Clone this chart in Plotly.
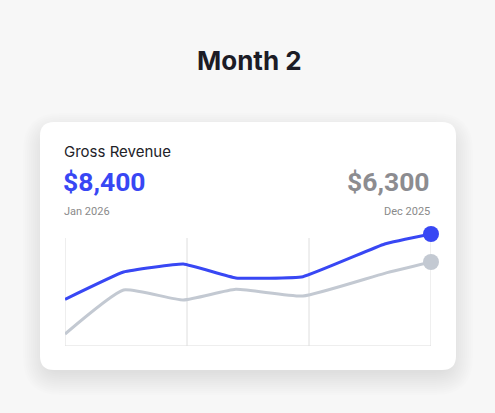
import plotly.graph_objects as go

# ---- data ----
x_pos = [0, 0.48, 0.97, 1.4, 1.95, 2.62, 3.0]
current = [3500, 5550, 6150, 5100, 5200, 7650, 8400]   # Jan 2026
previous = [900, 4200, 3450, 4250, 3750, 5450, 6300]   # Dec 2025
grid_x = [0, 1, 2, 3]
title_text = "Month 2"
metric_label = "Gross Revenue"
current_value = "$8,400"
previous_value = "$6,300"
current_period = "Jan 2026"
previous_period = "Dec 2025"

W, H = 495, 413
BLUE = "#3847F4"
GRAY = "#C3C9D2"
BG = "#F7F7F7"

def px(x):
    return x / W

def py(y):
    return 1 - y / H

fig = go.Figure()

fig.add_trace(go.Scatter(x=x_pos, y=previous, mode="lines",
                         line=dict(color=GRAY, width=3, shape="spline", smoothing=0.45),
                         hoverinfo="skip", showlegend=False, cliponaxis=False))
fig.add_trace(go.Scatter(x=x_pos, y=current, mode="lines",
                         line=dict(color=BLUE, width=3, shape="spline", smoothing=0.3),
                         hoverinfo="skip", showlegend=False, cliponaxis=False))
fig.add_trace(go.Scatter(x=[x_pos[-1]], y=[previous[-1]], mode="markers",
                         marker=dict(color=GRAY, size=16), showlegend=False,
                         hoverinfo="skip", cliponaxis=False))
fig.add_trace(go.Scatter(x=[x_pos[-1]], y=[current[-1]], mode="markers",
                         marker=dict(color=BLUE, size=16), showlegend=False,
                         hoverinfo="skip", cliponaxis=False))

shapes = []

def rrect(x0, y0, x1, y1, r):
    rx, ry = r / W, r / H
    X0, X1 = px(x0), px(x1)
    Yt, Yb = py(y0), py(y1)
    return (f"M {X0+rx},{Yt} L {X1-rx},{Yt} Q {X1},{Yt} {X1},{Yt-ry} "
            f"L {X1},{Yb+ry} Q {X1},{Yb} {X1-rx},{Yb} L {X0+rx},{Yb} "
            f"Q {X0},{Yb} {X0},{Yb+ry} L {X0},{Yt-ry} Q {X0},{Yt} {X0+rx},{Yt} Z")

for i in range(12):
    g = 1 + i * 2.0
    shapes.append(dict(type="path", xref="paper", yref="paper",
                       path=rrect(40 - g + 6, 122 - g + 14, 456 + g - 6, 370 + g + 2, 14 + g),
                       fillcolor="rgba(0,0,0,0.008)", line=dict(width=0), layer="below"))
shapes.append(dict(type="path", xref="paper", yref="paper",
                   path=rrect(40, 122, 456, 370, 14),
                   fillcolor="white", line=dict(width=0), layer="below"))

y_grid_top = 8100
for gx in grid_x:
    shapes.append(dict(type="line", xref="x", yref="y", x0=gx, x1=gx, y0=0, y1=y_grid_top,
                       line=dict(color="#DEDEDE", width=1), layer="below"))
shapes.append(dict(type="line", xref="x", yref="y", x0=0, x1=3, y0=0, y1=0,
                   line=dict(color="#DEDEDE", width=1.2), layer="below"))

ann = [
    dict(text=f"<b>{title_text}</b>", x=px(249), y=py(61), xanchor="center", yanchor="middle",
         font=dict(family="Inter", size=26, color="#1C1C26")),
    dict(text=metric_label, x=px(62), y=py(151), xanchor="left", yanchor="middle",
         font=dict(family="Inter", size=15, color="#222228")),
    dict(text=f"<b>{current_value}</b>", x=px(61), y=py(182), xanchor="left", yanchor="middle",
         font=dict(family="Roboto", size=26.5, color=BLUE)),
    dict(text=current_period, x=px(62), y=py(211), xanchor="left", yanchor="middle",
         font=dict(family="Roboto", size=11, color="#8A8A8A")),
    dict(text=f"<b>{previous_value}</b>", x=px(432), y=py(182), xanchor="right", yanchor="middle",
         font=dict(family="Roboto", size=26.5, color="#8C8C90")),
    dict(text=previous_period, x=px(432), y=py(211), xanchor="right", yanchor="middle",
         font=dict(family="Roboto", size=11, color="#8A8A8A")),
]
for a in ann:
    a.update(xref="paper", yref="paper", showarrow=False)

fig.update_layout(
    width=W, height=H, margin=dict(l=0, r=0, t=0, b=0),
    paper_bgcolor=BG, plot_bgcolor="rgba(0,0,0,0)",
    xaxis=dict(domain=[px(65), px(431)], range=[0, 3], visible=False, fixedrange=True),
    yaxis=dict(domain=[py(346), py(225)], range=[0, (346 - 225) * 75], visible=False, fixedrange=True),
    shapes=shapes, annotations=ann, showlegend=False,
)

fig.write_html("out.html", config={"displayModeBar": False},
               post_script=f"document.body.style.margin='0';document.body.style.background='{BG}';")
